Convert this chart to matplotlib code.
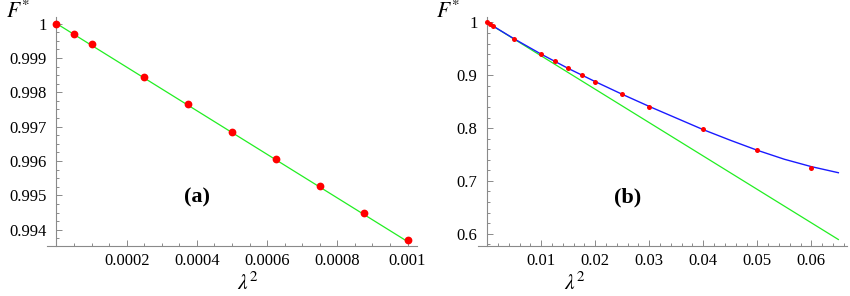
import matplotlib
matplotlib.use('Agg')
import matplotlib.pyplot as plt
from matplotlib.ticker import FixedLocator, MultipleLocator

plt.rcParams['font.family'] = ['Liberation Serif', 'DejaVu Serif']

# panel (a): small lambda^2
a_x = [0, 0.00005, 0.0001, 0.00025, 0.000375, 0.0005, 0.000625, 0.00075, 0.000875, 0.001]
a_y = [0.99998, 0.99970, 0.99940, 0.99844, 0.99765, 0.99685, 0.99606, 0.99528, 0.99449, 0.99371]
a_line_x = [0, 0.001]
a_line_y = [1.0, 0.99366]
a_xticks = [0.0002, 0.0004, 0.0006, 0.0008, 0.001]
a_xlabels = ['0.0002', '0.0004', '0.0006', '0.0008', '0.001']
a_yticks = [0.994, 0.995, 0.996, 0.997, 0.998, 0.999, 1.0]
a_ylabels = ['0.994', '0.995', '0.996', '0.997', '0.998', '0.999', '1']

# panel (b): larger lambda^2
b_x = [0, 0.0005, 0.001, 0.005, 0.01, 0.0125, 0.015, 0.0175, 0.02, 0.025, 0.03, 0.04, 0.05, 0.06]
b_y = [1.0, 0.997, 0.9937, 0.9693, 0.9409, 0.9271, 0.9138, 0.900, 0.8879, 0.864, 0.8405, 0.7983, 0.7591, 0.7244]
b_green_x = [0, 0.065]
b_green_y = [1.0, 0.589]
b_blue_x = [0, 0.005, 0.01, 0.015, 0.02, 0.025, 0.03, 0.035, 0.04, 0.045, 0.05, 0.055, 0.06, 0.065]
b_blue_y = [1.0, 0.969, 0.940, 0.913, 0.888, 0.864, 0.841, 0.819, 0.797, 0.777, 0.758, 0.741, 0.727, 0.7155]
b_xticks = [0.01, 0.02, 0.03, 0.04, 0.05, 0.06]
b_xlabels = ['0.01', '0.02', '0.03', '0.04', '0.05', '0.06']
b_yticks = [0.6, 0.7, 0.8, 0.9, 1.0]
b_ylabels = ['0.6', '0.7', '0.8', '0.9', '1']

W, H = 850, 296
fig = plt.figure(figsize=(8.5, 2.96), dpi=100)


def px_axes(x0, x1, ytop, ybot):
    return fig.add_axes([x0 / W, (H - ybot) / H, (x1 - x0) / W, (ybot - ytop) / H])


def style(ax, xt, xl, yt, yl, xminor, yminor):
    for s in ['top', 'right']:
        ax.spines[s].set_visible(False)
    ax.spines['left'].set_position(('data', 0))
    for s in ['left', 'bottom']:
        ax.spines[s].set_color('#8a8a8a')
        ax.spines[s].set_linewidth(0.8)
    ax.xaxis.set_major_locator(FixedLocator(xt))
    ax.set_xticklabels(xl)
    ax.yaxis.set_major_locator(FixedLocator(yt))
    ax.set_yticklabels(yl)
    ax.xaxis.set_minor_locator(MultipleLocator(xminor))
    ax.yaxis.set_minor_locator(MultipleLocator(yminor))
    ax.tick_params(which='both', direction='in', color='#8a8a8a', width=0.7,
                   labelsize=12, labelcolor='black')
    ax.tick_params(which='major', length=4)
    ax.tick_params(which='minor', length=2)
    ax.tick_params(axis='x', pad=5)
    ax.tick_params(axis='y', pad=7)


# left panel
ax1 = px_axes(47, 417, 17, 246)
ax1.plot(a_line_x, a_line_y, color='#22ee22', lw=0.9, zorder=2)
ax1.plot(a_x, a_y, 'o', color='red', ms=5.6, mec='none', clip_on=False, zorder=5)
ax1.set_xlim(-0.000027, 0.001027)
ax1.set_ylim(0.99353, 1.00019)
style(ax1, a_xticks, a_xlabels, a_yticks, a_ylabels, 0.00005, 0.00025)

# right panel
ax2 = px_axes(478, 847, 17, 246)
ax2.plot(b_green_x, b_green_y, color='#22ee22', lw=0.9, zorder=2)
ax2.plot(b_blue_x, b_blue_y, color='#1a1aff', lw=1.0, zorder=3)
ax2.plot(b_x, b_y, 'o', color='red', ms=3.6, mec='none', clip_on=False, zorder=5)
ax2.set_xlim(-0.0017, 0.0666)
ax2.set_ylim(0.5767, 1.0104)
style(ax2, b_xticks, b_xlabels, b_yticks, b_ylabels, 0.002, 0.02)

# labels
for (x, y) in [(18, 12), (448, 12)]:
    fig.text(x / W, 1 - y / H, r'$F^{*}$', fontsize=15.5, ha='center', va='center',
             math_fontfamily='stix')
for (x, y) in [(248, 284), (575, 284)]:
    fig.text(x / W, 1 - y / H, r'$\lambda^{2}$', fontsize=15.5, ha='center', va='center',
             math_fontfamily='stix')
fig.text(197 / W, 1 - 197 / H, '(a)', fontsize=16, fontweight='bold', ha='center', va='center')
fig.text(628 / W, 1 - 197 / H, '(b)', fontsize=16, fontweight='bold', ha='center', va='center')

fig.savefig('out.png', dpi=100)
